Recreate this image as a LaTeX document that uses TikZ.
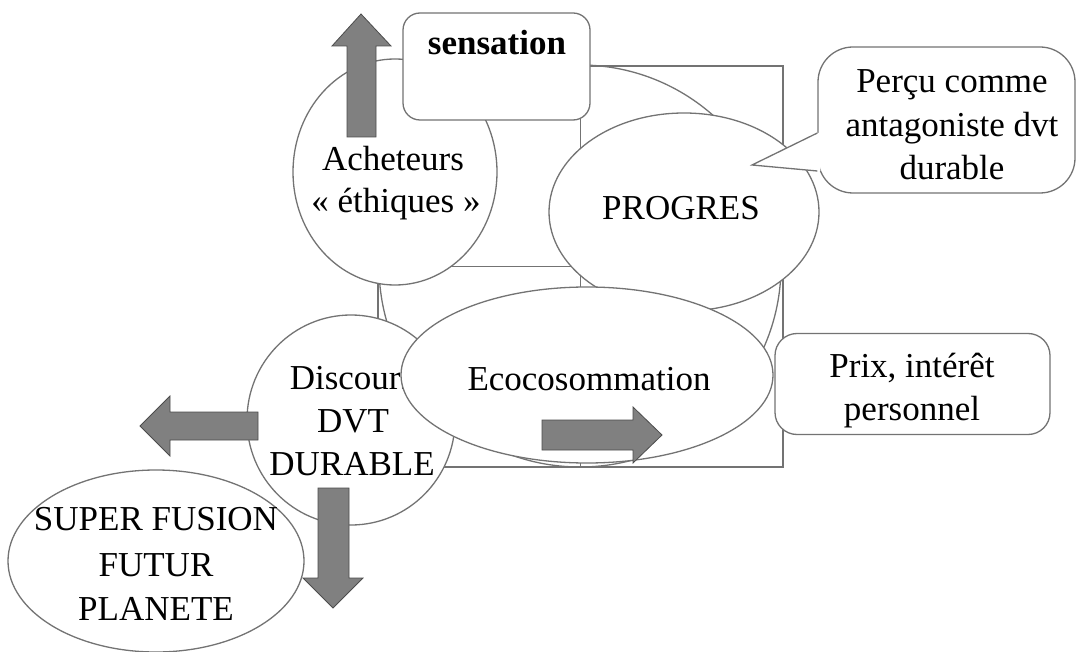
\documentclass[tikz,border=0pt]{standalone}
\usepackage{fontspec}
\setmainfont{Liberation Serif}
\usetikzlibrary{shapes.geometric}
\begin{document}
\begin{tikzpicture}[x=1pt,y=-1pt,
  outl/.style={draw=black!55, line width=1.3pt},
  blob/.style={outl, fill=white, inner sep=0pt},
  oval/.style={blob, ellipse},
  bigarrow/.style={fill=black!50, draw=black!70, line width=0.8pt},
  txt/.style={font=\fontsize{35}{43}\selectfont, inner sep=0pt, anchor=base},
]
\useasboundingbox (0,0) rectangle (1076,652);
% background frame: square, quadrant lines, big circle
\node[outl, rectangle, minimum width=405pt, minimum height=401pt, inner sep=0pt] (frame) at (580.5,266.5) {};
\draw[outl] (frame.north) -- (frame.south);
\draw[outl] (frame.west) -- (frame.east);
\node[outl, circle, minimum size=402pt, inner sep=0pt] (bigc) at (580,266) {};
% Acheteurs
\node[oval, minimum width=204pt, minimum height=226pt] (ach) at (395,172) {};
\node[txt] (achA) at (393,171) {Acheteurs};
\node[txt] (achB) at (396,213) {« éthiques »};
% up arrow
\draw[bigarrow] (361,14) -- (391,46) -- (376,46) -- (376,137) -- (347,137) -- (347,46) -- (332,46) -- cycle;
% sensation
\node[blob, rectangle, rounded corners=17pt, minimum width=187pt, minimum height=107pt] (sens) at (496.5,66.5) {};
\node[txt, font=\fontsize{35}{43}\selectfont\bfseries] (sensT) at (497,55) {sensation};
% PROGRES
\node[oval, minimum width=270pt, minimum height=198pt] (prog) at (684,212) {};
\node[txt] (progT) at (681,220) {PROGRES};
% callout
\node[blob, rectangle, rounded corners=35pt, minimum width=257pt, minimum height=146pt] (call) at (946.5,120) {};
\coordinate (tip) at (752,165);
\fill[white] (call.west |- 0,133) -- (tip) -- (call.west |- 0,171) -- ([xshift=3pt]call.west |- 0,171) -- ([xshift=3pt]call.west |- 0,133) -- cycle;
\draw[outl] (call.west |- 0,133) -- (tip) -- (call.west |- 0,171);
\node[txt] (callA) at (952,93) {Perçu comme};
\node[txt] (callB) at (952,137) {antagoniste dvt};
\node[txt] (callC) at (952,180) {durable};
% Discours
\node[oval, minimum width=208pt, minimum height=210pt] (disc) at (351,420) {};
\node[txt] (discA) at (352,389) {Discours};
\node[txt] (discB) at (353,432) {DVT};
\node[txt] (discC) at (352,475) {DURABLE};
% Ecocosommation
\node[oval, minimum width=372pt, minimum height=176pt] (eco) at (587,375) {};
\node[txt] (ecoT) at (589,390) {Ecocosommation};
% Prix
\node[blob, rectangle, rounded corners=22pt, minimum width=275pt, minimum height=101pt] (prix) at (912.5,384) {};
\node[txt] (prixA) at (912,377) {Prix, intérêt};
\node[txt] (prixB) at (912,420) {personnel};
% SUPER FUSION
\node[oval, minimum width=296pt, minimum height=182pt] (sup) at (156,561) {};
\node[txt] (supA) at (156,530) {SUPER FUSION};
\node[txt] (supB) at (156,576) {FUTUR};
\node[txt] (supC) at (156,620) {PLANETE};
% arrows
\draw[bigarrow] (662,435) -- (633,463) -- (633,450) -- (542,450) -- (542,420) -- (633,420) -- (633,407) -- cycle;
\draw[bigarrow] (140,426) -- (170,396) -- (170,412) -- (258,412) -- (258,440) -- (170,440) -- (170,456) -- cycle;
\draw[bigarrow] (333,608) -- (303,578) -- (318,578) -- (318,488) -- (349,488) -- (349,578) -- (363,578) -- cycle;
\end{tikzpicture}
\end{document}
